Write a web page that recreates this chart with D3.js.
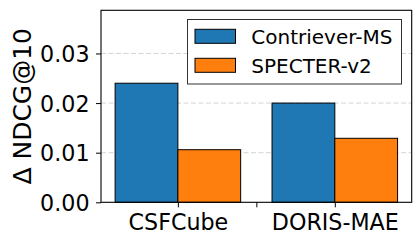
<!DOCTYPE html>
<html>
<head>
<meta charset="utf-8">
<script src="https://cdn.jsdelivr.net/npm/d3@7"></script>
<style>
  body { margin: 0; background: #fff; }
  text { font-family: "DejaVu Sans", sans-serif; fill: #000; }
</style>
</head>
<body>
<svg id="chart" width="420" height="245"></svg>
<script>
const categories = ["CSFCube", "DORIS-MAE"];
const seriesNames = ["Contriever-MS", "SPECTER-v2"];
const contrieverMS = [0.0240, 0.0200];
const specterV2 = [0.0106, 0.0129];
const yTicks = [0.00, 0.01, 0.02, 0.03];
const colors = ["#1f77b4", "#ff7f0e"];

const plotL = 101, plotR = 411.7, plotT = 10.3, plotB = 202.3;
const barW = 0.4;

const svg = d3.select("#chart");

const x = d3.scaleLinear().domain([-0.49, 1.49]).range([plotL, plotR]);
const y = d3.scaleLinear().domain([0, 0.0387]).range([plotB, plotT]);

// grid
svg.append("g")
    .selectAll("line")
    .data(yTicks.slice(1))
    .join("line")
    .attr("x1", plotL).attr("x2", plotR)
    .attr("y1", d => y(d)).attr("y2", d => y(d))
    .attr("stroke", "#d4d4d4")
    .attr("stroke-width", 1)
    .attr("stroke-dasharray", "5,2.5");

// bars
const series = [contrieverMS, specterV2];
series.forEach((vals, s) => {
    svg.append("g")
        .selectAll("rect")
        .data(vals)
        .join("rect")
        .attr("x", (d, i) => x(i - barW + s * barW))
        .attr("width", x(barW) - x(0))
        .attr("y", d => y(d))
        .attr("height", d => plotB - y(d))
        .attr("fill", colors[s])
        .attr("stroke", "#000")
        .attr("stroke-width", 1);
});

// y axis
const yAxis = svg.append("g")
    .attr("transform", `translate(${plotL},0)`)
    .call(d3.axisLeft(y).tickValues(yTicks).tickFormat(d3.format(".2f")).tickSizeOuter(0).tickSize(5).tickPadding(6.5));
yAxis.select(".domain").remove();
yAxis.selectAll("text").style("font-size", "22.2px").attr("dy", "0.37em");

// x axis (ticks at group centres plus a blank one between)
const xAxis = svg.append("g")
    .attr("transform", `translate(0,${plotB})`)
    .call(d3.axisBottom(x).tickValues([0, 0.5, 1])
        .tickFormat(d => d === 0.5 ? "" : categories[d])
        .tickSizeOuter(0).tickSize(5).tickPadding(7.2));
xAxis.select(".domain").remove();
xAxis.selectAll("text").style("font-size", "22.2px");

// frame
svg.append("rect")
    .attr("x", plotL).attr("y", plotT)
    .attr("width", plotR - plotL).attr("height", plotB - plotT)
    .attr("fill", "none").attr("stroke", "#000").attr("stroke-width", 1.1);

// y label
svg.append("text")
    .attr("transform", `translate(31,${(plotT + plotB) / 2}) rotate(-90)`)
    .attr("text-anchor", "middle")
    .style("font-size", "25px")
    .text("Δ NDCG@10");

// legend
const lg = svg.append("g");
lg.append("rect")
    .attr("x", 187.5).attr("y", 19.5)
    .attr("width", 214).attr("height", 64.5)
    .attr("fill", "#fff").attr("stroke", "#333").attr("stroke-width", 1);
seriesNames.forEach((name, i) => {
    lg.append("rect")
        .attr("x", 195).attr("y", 29.3 + i * 29)
        .attr("width", 40.5).attr("height", 14)
        .attr("fill", colors[i]).attr("stroke", "#000").attr("stroke-width", 1);
    lg.append("text")
        .attr("x", 251.3).attr("y", 44 + i * 29.2)
        .style("font-size", "20px")
        .text(name);
});
</script>
</body>
</html>
